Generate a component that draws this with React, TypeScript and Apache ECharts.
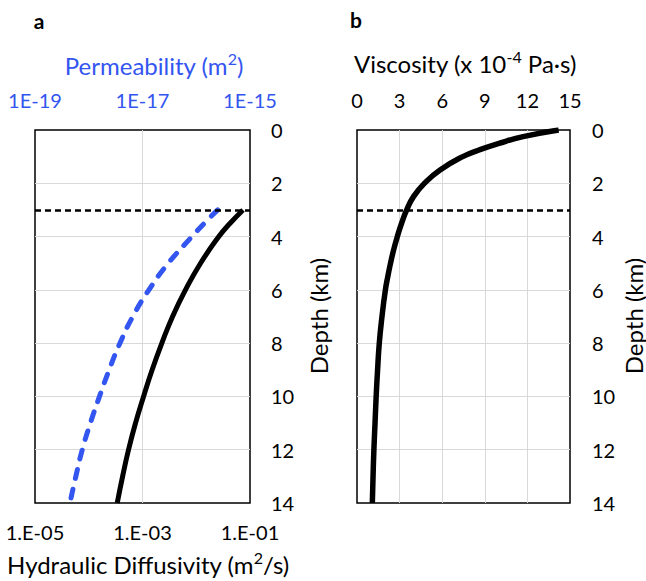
import React, { useEffect, useRef } from "react";
import * as echarts from "echarts";

// Panel a: depth (km) vs log10 hydraulic diffusivity (m2/s) and log10 permeability (m2)
const depthA = [3, 3.5, 4, 5, 6, 7, 8, 9, 10, 11, 12, 13, 14];
const diffusivityLog10 = [-1.13, -1.37, -1.58, -1.92, -2.2, -2.44, -2.64, -2.82, -2.98, -3.13, -3.26, -3.37, -3.47];
const permeabilityLog10 = [-15.6, -15.85, -16.08, -16.52, -16.88, -17.18, -17.42, -17.62, -17.8, -17.97, -18.12, -18.24, -18.35];

// Panel b: depth (km) vs viscosity (x 1e-4 Pa·s)
const depthB = [0, 0.25, 0.5, 0.75, 1, 1.5, 2, 2.5, 3, 3.5, 4, 4.5, 5, 5.5, 6, 7, 8, 9, 10, 11, 12, 13, 14];
const viscosity = [14.2, 11.7, 10.0, 8.6, 7.45, 5.85, 4.75, 3.98, 3.5, 3.14, 2.84, 2.58, 2.36, 2.17, 2.0, 1.76, 1.57, 1.45, 1.35, 1.27, 1.19, 1.13, 1.08];

// Axes
const depthRange = [0, 14];
const depthStep = 2;
const diffusivityExpRange = [-5, -1];
const permeabilityExpRange = [-19, -15];
const logStep = 2;
const viscosityRange = [0, 15];
const viscosityStep = 3;
const thresholdDepth = 3;

const FONT = "Lato, 'Noto Sans', sans-serif";
const BLUE = "#3355F0";
const GRID = "#d9d9d9";

export default function App() {
  const ref = useRef<HTMLDivElement>(null);
  useEffect(() => {
    document.body.style.margin = "0";
    const chart = echarts.init(ref.current!, null, { renderer: "svg" });
    const pad2 = (n: number) => String(Math.abs(Math.round(n))).padStart(2, "0");
    const tickLabel = { fontSize: 20, color: "#000", fontFamily: FONT };
    const split = { show: true, showMinLine: false, showMaxLine: false, lineStyle: { color: GRID, width: 1 } };
    const threshold = {
      symbol: "none",
      silent: true,
      label: { show: false },
      lineStyle: { color: "#000", type: [6, 4], width: 2.5 },
      data: [{ yAxis: thresholdDepth }],
    };
    const sup = (fill: string) => ({ fontSize: 16, fontFamily: FONT, fill, verticalAlign: "top", lineHeight: 30 });
    chart.setOption({
      animation: false,
      grid: [
        { left: 35, top: 130, width: 215, height: 373, show: true, borderColor: "#000", borderWidth: 1.5, backgroundColor: "transparent" },
        { left: 357, top: 130, width: 213, height: 373, show: true, borderColor: "#000", borderWidth: 1.5, backgroundColor: "transparent" },
      ],
      xAxis: [
        {
          gridIndex: 0, type: "value", position: "bottom",
          min: diffusivityExpRange[0], max: diffusivityExpRange[1], interval: logStep,
          axisLine: { show: false }, axisTick: { show: false },
          axisLabel: { ...tickLabel, margin: 19, formatter: (v: number) => "1.E-" + pad2(v) },
          splitLine: split,
        },
        {
          gridIndex: 0, type: "value", position: "top",
          min: permeabilityExpRange[0], max: permeabilityExpRange[1], interval: logStep,
          axisLine: { show: false }, axisTick: { show: false },
          axisLabel: { ...tickLabel, color: BLUE, margin: 20, formatter: (v: number) => "1E-" + pad2(v) },
          splitLine: { show: false },
        },
        {
          gridIndex: 1, type: "value", position: "top",
          min: viscosityRange[0], max: viscosityRange[1], interval: viscosityStep,
          axisLine: { show: false }, axisTick: { show: false },
          axisLabel: { ...tickLabel, margin: 20 },
          splitLine: split,
        },
      ],
      yAxis: [
        {
          gridIndex: 0, type: "value", position: "right", inverse: true,
          min: depthRange[0], max: depthRange[1], interval: depthStep,
          axisLine: { show: false }, axisTick: { show: false },
          axisLabel: { ...tickLabel, margin: 21 },
          splitLine: split,
        },
        {
          gridIndex: 1, type: "value", position: "right", inverse: true,
          min: depthRange[0], max: depthRange[1], interval: depthStep,
          axisLine: { show: false }, axisTick: { show: false },
          axisLabel: { ...tickLabel, margin: 22 },
          splitLine: split,
        },
      ],
      series: [
        {
          type: "line", name: "Permeability", xAxisIndex: 1, yAxisIndex: 0,
          data: depthA.map((d, i) => [permeabilityLog10[i], d]),
          smooth: 0.5, symbol: "none",
          lineStyle: { color: BLUE, width: 5, type: [9, 11], cap: "round" },
          z: 3,
        },
        {
          type: "line", name: "Hydraulic Diffusivity", xAxisIndex: 0, yAxisIndex: 0,
          data: depthA.map((d, i) => [diffusivityLog10[i], d]),
          smooth: 0.5, symbol: "none",
          lineStyle: { color: "#000", width: 5 },
          markLine: threshold,
          z: 4,
        },
        {
          type: "line", name: "Viscosity", xAxisIndex: 2, yAxisIndex: 1,
          data: depthB.map((d, i) => [viscosity[i], d]),
          smooth: 0.5, symbol: "none",
          lineStyle: { color: "#000", width: 5.5 },
          markLine: threshold,
          z: 4,
        },
      ],
      graphic: [
        { type: "text", x: 39, y: 20, style: { text: "a", font: `bold 21px ${FONT}`, fill: "#000", align: "center", verticalAlign: "middle" } },
        { type: "text", x: 356, y: 19, style: { text: "b", font: `bold 21px ${FONT}`, fill: "#000", align: "center", verticalAlign: "middle" } },
        {
          type: "text", x: 154, y: 65,
          style: {
            text: "Permeability (m{sup|2})", fontSize: 24, fontFamily: FONT, fill: BLUE, align: "center", verticalAlign: "middle",
            rich: { sup: sup(BLUE) },
          },
        },
        {
          type: "text", x: 465, y: 63,
          style: {
            text: "Viscosity (x 10{sup|-4} Pa·s)", fontSize: 24, fontFamily: FONT, fill: "#000", align: "center", verticalAlign: "middle",
            rich: { sup: sup("#000") },
          },
        },
        {
          type: "text", x: 148, y: 564,
          style: {
            text: "Hydraulic Diffusivity (m{sup|2}/s)", fontSize: 24, fontFamily: FONT, fill: "#000", align: "center", verticalAlign: "middle",
            rich: { sup: sup("#000") },
          },
        },
        { type: "text", x: 318, y: 316, rotation: Math.PI / 2, style: { text: "Depth (km)", fontSize: 24, fontFamily: FONT, fill: "#000", align: "center", verticalAlign: "middle" } },
        { type: "text", x: 633, y: 316, rotation: Math.PI / 2, style: { text: "Depth (km)", fontSize: 24, fontFamily: FONT, fill: "#000", align: "center", verticalAlign: "middle" } },
      ],
    });
    return () => chart.dispose();
  }, []);
  return <div ref={ref} style={{ width: 646, height: 581 }} />;
}
